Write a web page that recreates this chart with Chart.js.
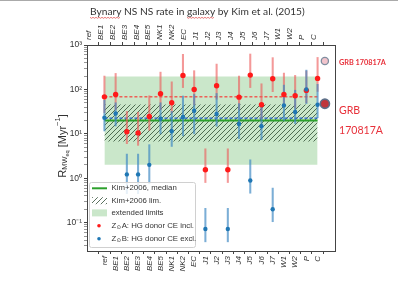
<!DOCTYPE html>
<html>
<head>
<meta charset="utf-8">
<script src="https://cdn.jsdelivr.net/npm/chart.js@4.4.0/dist/chart.umd.min.js"></script>
<style>
  html, body { margin: 0; padding: 0; background: #fff; }
  #wrap { width: 398px; height: 284px; }
</style>
</head>
<body>
<div id="wrap"><canvas id="chart" width="398" height="284"></canvas></div>
<script>
// --- Data ---
const categories = ['ref', 'BE1', 'BE2', 'BE3', 'BE4', 'BE5', 'NK1', 'NK2', 'EC', 'J1',
                    'J2', 'J3', 'J4', 'J5', 'J6', 'J7', 'W1', 'W2', 'P', 'C'];

// Z_sun A: HG donor CE incl. (red)
const redVal = [68, 77, 11.2, 10.5, 24.5, 80, 50, 207, 100, 1.55, 121, 1.55, 67, 210, 45, 174, 77, 72, 95, 177];
const redHi  = [200, 229, 32, 30.6, 72, 245, 148, 617, 264, 4.6, 372, 4.6, 200, 627, 134, 519, 233, 207, 260, 525];
const redLo  = [30, 35, 6, 5.5, 12, 35, 30, 110, 45, 0.8, 60, 0.8, 35, 110, 22, 89, 40, 38, 50, 90];

// Z_sun B: HG donor CE excl. (blue)
const blueVal = [23, 28.7, 1.22, 1.22, 2.0, 22, 11.4, 24, 33, 0.072, 28, 0.072, 16.6, 0.89, 14.8, 0.20, 43.6, 31, 100, 45];
const blueHi  = [57, 50, 3.5, 3.5, 5.7, 50, 32, 71, 77, 0.21, 81, 0.21, 48, 2.6, 44, 0.60, 125, 96, 272, 130];
const blueLo  = [11.6, 15, 0.45, 0.45, 0.75, 10, 5.2, 9, 10, 0.037, 14.8, 0.037, 7.8, 0.46, 7.4, 0.105, 20, 17, 48, 23];

// reference levels
const kimMedian = 20;
const kimLim = [6.7, 46];
const extLim = [2.0, 195];
const meanA = 68;
const meanB = 22.5;

// GRB 170817A markers (placed just right of C)
const grbX = 19.65;
const grbY = [437, 47.5];

const yTickValues = [0.1, 1, 10, 100, 1000];
const yTickLabels = ['10\u207B\u00B9', '10\u2070', '10\u00B9', '10\u00B2', '10\u00B3'];

// --- Styles ---
const RED = '#ff1a1a';
const RED_BAR = 'rgba(238, 90, 90, 0.62)';
const BLUE = '#1f77b4';
const BLUE_BAR = 'rgba(60, 135, 195, 0.68)';
const GREEN = '#2ca02c';
const BAND = 'rgba(44, 160, 44, 0.25)';
const AXIS = '#444';
const TXT = '#333';

function hatchPattern(bg) {
    const c = document.createElement('canvas');
    c.width = 5; c.height = 5;
    const g = c.getContext('2d');
    if (bg) { g.fillStyle = bg; g.fillRect(0, 0, 5, 5); }
    g.strokeStyle = 'rgba(40, 70, 45, 0.85)';
    g.lineWidth = 0.9;
    g.beginPath();
    g.moveTo(-1, 6); g.lineTo(6, -1);
    g.moveTo(-1, 1); g.lineTo(1, -1);
    g.moveTo(4, 6); g.lineTo(6, 4);
    g.stroke();
    return g.createPattern(c, 'repeat');
}
const hatch = hatchPattern(null);

const last = categories.length - 1;
const hline = (y, extra) => Object.assign({
    type: 'line',
    data: [{ x: 0, y }, { x: last, y }],
    pointRadius: 0, borderWidth: 0, fill: false
}, extra);

const errBars = (lo, hi, color, order) => ({
    type: 'bar',
    data: categories.map((c, i) => ({ x: i, y: [lo[i], hi[i]] })),
    backgroundColor: color, borderWidth: 0, barThickness: 1.4, grouped: false, order
});

const points = (vals, color, r, order) => ({
    type: 'scatter',
    data: categories.map((c, i) => ({ x: i, y: vals[i] })),
    backgroundColor: color, borderWidth: 0, pointRadius: r, order
});

const xTicksFont = { family: 'Liberation Sans', size: 8, style: 'italic' };

function catAxis(position, height) {
    return {
        type: 'linear', min: -1, max: categories.length, position,
        afterBuildTicks: s => { s.ticks = categories.map((c, i) => ({ value: i })); },
        ticks: {
            callback: v => categories[v] ?? '', autoSkip: false,
            maxRotation: 90, minRotation: 90, font: xTicksFont, color: TXT, padding: 2
        },
        grid: { drawOnChartArea: false, tickLength: 3, color: AXIS },
        border: { color: AXIS, width: 1 },
        afterFit: s => { s.height = height; }
    };
}

// custom drawing: title, y label, legend, GRB annotations
const decor = {
    id: 'decor',
    beforeDraw(chart) {
        const ctx = chart.ctx;
        ctx.save();
        ctx.fillStyle = '#fff';
        ctx.fillRect(0, 0, chart.width, chart.height);
        ctx.strokeStyle = '#aaa';
        ctx.lineWidth = 1;
        ctx.beginPath(); ctx.moveTo(0, 0.5); ctx.lineTo(chart.width, 0.5); ctx.stroke();
        ctx.restore();
    },
    afterDraw(chart) {
        const ctx = chart.ctx;
        ctx.save();

        // title, squeezed to the reference width
        const title = 'Bynary NS NS rate in galaxy by Kim et al. (2015)';
        ctx.font = '12px Lato';
        let tw = ctx.measureText(title).width;
        const tSize = 12 * 215 / tw;
        ctx.font = tSize + 'px Lato';
        const tx = 90, ty = 14.5;
        ctx.fillStyle = TXT;
        ctx.textBaseline = 'alphabetic';
        ctx.textAlign = 'left';
        ctx.fillText(title, tx, ty);
        // spell-check squiggles
        const squiggle = (x0, w) => {
            ctx.strokeStyle = '#e04040';
            ctx.lineWidth = 0.7;
            ctx.beginPath();
            for (let x = 0; x <= w; x += 1.5) {
                const yy = ty + 3 + ((Math.round(x / 1.5) % 2) ? 0.8 : -0.2);
                if (x === 0) ctx.moveTo(x0 + x, yy); else ctx.lineTo(x0 + x, yy);
            }
            ctx.stroke();
        };
        squiggle(tx, ctx.measureText('Bynary').width);
        const gx = tx + ctx.measureText('Bynary NS NS rate in ').width;
        squiggle(gx, ctx.measureText('galaxy').width);

        // y axis title with sub/superscripts
        ctx.save();
        ctx.translate(59, 146);
        ctx.rotate(-Math.PI / 2);
        const parts = [
            { t: 'R', s: 11, dy: 0 },
            { t: 'MW', s: 7.5, dy: 2.5 },
            { t: 'eq', s: 5.5, dy: 4.5 },
            { t: ' [Myr', s: 11, dy: 0 },
            { t: '\u22121', s: 7.5, dy: -4.5 },
            { t: ']', s: 11, dy: 0 }
        ];
        let total = 0;
        parts.forEach(p => { ctx.font = p.s + 'px "Liberation Sans"'; p.w = ctx.measureText(p.t).width; total += p.w; });
        let px = -total / 2;
        ctx.fillStyle = TXT;
        ctx.textBaseline = 'middle';
        parts.forEach(p => {
            ctx.font = p.s + 'px "Liberation Sans"';
            ctx.fillText(p.t, px, 3.5 + p.dy);
            px += p.w;
        });
        ctx.restore();

        // legend
        const lx = 89, ly = 182, lw = 106, lh = 65;
        ctx.fillStyle = 'rgba(255,255,255,0.82)';
        ctx.strokeStyle = '#d0d0d0';
        ctx.lineWidth = 1;
        ctx.beginPath();
        ctx.roundRect(lx + 0.5, ly + 0.5, lw, lh, 2);
        ctx.fill(); ctx.stroke();

        const rowY = [188.3, 200.7, 212.9, 225.7, 238.7];
        const hx = 92, hw = 15, textX = 111.5;
        // median line
        ctx.strokeStyle = GREEN; ctx.lineWidth = 2;
        ctx.beginPath(); ctx.moveTo(hx, rowY[0]); ctx.lineTo(hx + hw, rowY[0]); ctx.stroke();
        // hatch
        ctx.fillStyle = hatch;
        ctx.fillRect(hx, rowY[1] - 3.5, hw, 7);
        // band
        ctx.fillStyle = BAND;
        ctx.fillRect(hx, rowY[2] - 3.5, hw, 7);
        // dots
        ctx.fillStyle = RED;
        ctx.beginPath(); ctx.arc(hx + 7, rowY[3], 1.8, 0, Math.PI * 2); ctx.fill();
        ctx.fillStyle = BLUE;
        ctx.beginPath(); ctx.arc(hx + 7, rowY[4], 1.8, 0, Math.PI * 2); ctx.fill();

        ctx.fillStyle = TXT;
        ctx.textBaseline = 'middle';
        const lf = '7.8px "Liberation Sans"';
        ctx.font = lf;
        ctx.fillText('Kim+2006, median', textX, rowY[0]);
        ctx.fillText('Kim+2006 lim.', textX, rowY[1]);
        ctx.fillText('extended limits', textX, rowY[2]);
        const zLine = (y, rest) => {
            ctx.font = lf;
            ctx.fillText('Z', textX, y);
            const zw = ctx.measureText('Z').width;
            ctx.font = '5.5px "DejaVu Sans"';
            ctx.fillText('\u2299', textX + zw + 0.2, y + 2);
            const sw = ctx.measureText('\u2299').width;
            ctx.font = lf;
            ctx.fillText(rest, textX + zw + sw + 0.8, y);
        };
        zLine(rowY[3], 'A: HG donor CE incl.');
        zLine(rowY[4], 'B: HG donor CE excl.');

        // GRB 170817A annotations
        ctx.fillStyle = '#e8303a';
        ctx.textBaseline = 'alphabetic';
        ctx.font = 'bold 8px Lato';
        let w = ctx.measureText('GRB 170817A').width;
        ctx.font = 'bold ' + (8 * 47 / w) + 'px Lato';
        ctx.fillText('GRB 170817A', 339, 64.5);
        ctx.font = '14px Lato';
        w = ctx.measureText('170817A').width;
        ctx.font = (14 * 44 / w) + 'px Lato';
        ctx.fillText('GRB', 339, 114);
        ctx.fillText('170817A', 339, 133.5);

        ctx.restore();
    }
};

const chart = new Chart(document.getElementById('chart'), {
    type: 'scatter',
    data: {
        datasets: [
            // GRB markers on top
            {
                type: 'scatter',
                data: grbY.map(y => ({ x: grbX, y })),
                pointRadius: [3.6, 4.6],
                backgroundColor: ['#f2c4cc', '#c0363c'],
                borderColor: ['#7f8ea0', '#5d6f88'],
                borderWidth: [1.3, 1.6],
                clip: false, order: 0
            },
            points(blueVal, BLUE, 2.2, 1),
            points(redVal, RED, 2.7, 2),
            errBars(blueLo, blueHi, BLUE_BAR, 3),
            errBars(redLo, redHi, RED_BAR, 4),
            hline(meanA, { borderColor: RED, borderWidth: 1, borderDash: [3, 2], order: 5 }),
            hline(meanB, { borderColor: '#2060d0', borderWidth: 1.3, borderDash: [3, 2], order: 6 }),
            hline(kimMedian, { borderColor: GREEN, borderWidth: 2, order: 7 }),
            // Kim+2006 lim. (hatched)
            hline(kimLim[1], { order: 8 }),
            hline(kimLim[0], { fill: '-1', backgroundColor: hatch, order: 8 }),
            // extended limits
            hline(extLim[1], { order: 9 }),
            hline(extLim[0], { fill: '-1', backgroundColor: BAND, order: 9 })
        ]
    },
    options: {
        responsive: false,
        animation: false,
        layout: { padding: { left: 0, right: 63, top: 0, bottom: 0 } },
        plugins: { legend: { display: false }, tooltip: { enabled: false } },
        scales: {
            x: catAxis('bottom', 33),
            x2: catAxis('top', 45),
            y: {
                type: 'logarithmic', min: 0.023, max: 1000, position: 'left',
                afterBuildTicks: s => {
                    const t = [];
                    yTickValues.forEach(d => {
                        const base = d / 10;
                        for (let m = 1; m <= 9; m++) {
                            const v = base * m;
                            if (v >= s.min && v <= s.max) t.push({ value: v });
                        }
                    });
                    t.push({ value: 1000 });
                    s.ticks = t.filter((o, i, a) => a.findIndex(q => Math.abs(q.value - o.value) < 1e-9) === i);
                },
                ticks: {
                    autoSkip: false,
                    callback: v => {
                        const k = yTickValues.findIndex(d => Math.abs(d - v) / d < 1e-6);
                        return k >= 0 ? yTickLabels[k] : '';
                    },
                    font: { family: 'Liberation Sans', size: 8.5 }, color: TXT, padding: 2
                },
                grid: {
                    drawOnChartArea: false, tickLength: 3,
                    color: ctx => {
                        const v = ctx.tick && ctx.tick.value;
                        return yTickValues.some(d => Math.abs(d - v) / d < 1e-6) ? AXIS : '#999';
                    }
                },
                border: { color: AXIS, width: 1 },
                afterFit: s => { s.width = 87; }
            },
            y2: {
                type: 'logarithmic', min: 0.023, max: 1000, position: 'right',
                ticks: { display: false },
                grid: { drawOnChartArea: false, drawTicks: false },
                border: { color: AXIS, width: 1 },
                afterFit: s => { s.width = 0; }
            }
        }
    },
    plugins: [decor]
});
</script>
</body>
</html>
